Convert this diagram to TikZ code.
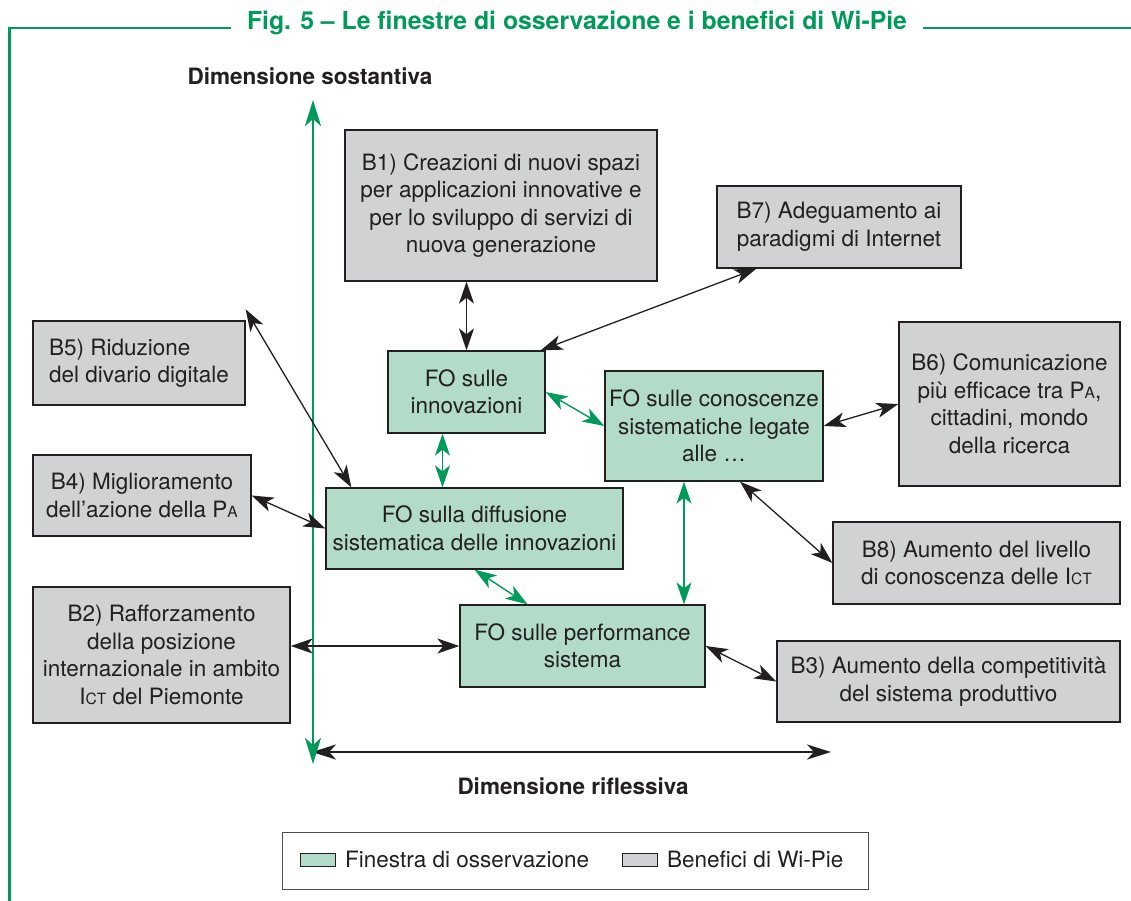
\documentclass[tikz,border=0pt]{standalone}
\usepackage{fontspec}
\setmainfont{TeX Gyre Heros}
\usetikzlibrary{arrows.meta,calc}
\definecolor{frgreen}{RGB}{0,155,88}
\definecolor{fofill}{RGB}{178,220,200}
\definecolor{bfill}{RGB}{209,210,212}
\definecolor{ink}{RGB}{35,31,32}
\newcommand\scx[1]{{\fontsize{15.5}{15.5}\selectfont #1}}
\tikzset{
  box/.style={draw=ink, line width=1.3pt, inner sep=0pt, align=center, text=ink,
     font=\fontsize{22.5}{27.5}\selectfont},
  fo/.style={box, fill=fofill},
  ben/.style={box, fill=bfill},
  hd/.style={Stealth[length=22pt,width=15pt,inset=6pt]},
  blk/.style={{Stealth[length=22pt,width=15pt,inset=6pt]}-{Stealth[length=22pt,width=15pt,inset=6pt]}, line width=1.3pt, draw=ink},
  grn/.style={{Stealth[length=22pt,width=15pt,inset=6pt]}-{Stealth[length=22pt,width=15pt,inset=6pt]}, line width=1.4pt, draw=frgreen},
  frame/.style={draw=frgreen, line width=2.6pt},
  axlab/.style={font=\fontsize{22.5}{27}\selectfont\bfseries, text=ink},
}
\begin{document}
\begin{tikzpicture}[x=1pt,y=-1pt]
\useasboundingbox (0,0) rectangle (1131,901);
% frame and title
\node[anchor=base, text=frgreen, font=\fontsize{24.8}{29}\selectfont\bfseries, inner xsep=16pt] (title) at (577,30) {Fig. 5 – Le finestre di osservazione e i benefici di Wi-Pie};
\draw[frame] (title.west |- 0,28) -- (9.5,28) -- (9.5,901);
\draw[frame] (title.east |- 0,28) -- (1131,28);
% axes
\node[axlab] (ylab) at (310,76) {Dimensione sostantiva};
\node[axlab] (xlab) at (573,786) {Dimensione riflessiva};
\coordinate (vtop) at (313,100);
\coordinate (vbot) at (313,764);
\coordinate (hl) at (312,752);
\coordinate (hr) at (831,752);
\draw[line width=2.4pt, draw=ink, {Stealth[length=24pt,width=15pt,inset=7pt]}-{Stealth[length=24pt,width=15pt,inset=7pt]}] (hl) -- (hr);
\draw[line width=2.8pt, draw=frgreen, {Stealth[length=26pt,width=16pt,inset=7pt]}-{Stealth[length=26pt,width=16pt,inset=7pt]}] (vtop) -- (vbot);
% boxes
\node[ben, minimum width=312pt, minimum height=151pt] (B1) at (501,205.5) {B1) Creazioni di nuovi spazi\\per applicazioni innovative e\\per lo sviluppo di servizi di\\nuova generazione};
\node[ben, minimum width=244pt, minimum height=82pt] (B7) at (839,227) {B7) Adeguamento ai\\paradigmi di Internet};
\node[ben, minimum width=212pt, minimum height=84pt, align=left] (B5) at (139,363) {B5) Riduzione\\del divario digitale};
\node[fo, minimum width=157pt, minimum height=82pt] (FOi) at (466.5,392) {FO sulle\\innovazioni};
\node[fo, minimum width=218pt, minimum height=110pt] (FOc) at (714,426) {FO sulle conoscenze\\sistematiche legate\\alle …};
\node[ben, minimum width=221pt, minimum height=164pt] (B6) at (1009.5,404) {B6) Comunicazione\\più efficace tra P\scx{A},\\cittadini, mondo\\della ricerca};
\node[ben, minimum width=218pt, minimum height=81pt] (B4) at (142,495.5) {B4) Miglioramento\\dell’azione della P\scx{A}};
\node[fo, minimum width=297pt, minimum height=81pt] (FOd) at (474.5,528.5) {FO sulla diffusione\\sistematica delle innovazioni};
\node[ben, minimum width=287pt, minimum height=82pt] (B8) at (976.5,563) {B8) Aumento del livello\\di conoscenza delle I\scx{CT}};
\node[ben, minimum width=257pt, minimum height=136pt] (B2) at (161.5,655) {B2) Rafforzamento\\della posizione\\internazionale in ambito\\I\scx{CT} del Piemonte};
\node[fo, minimum width=245pt, minimum height=82pt] (FOp) at (582.5,646) {FO sulle performance\\sistema};
\node[ben, minimum width=343pt, minimum height=81pt] (B3) at (948.5,681.5) {B3) Aumento della competitività\\del sistema produttivo};
% black connectors
\draw[blk] (FOi.north |- B1.south) -- (FOi.north);
\draw[blk] ([xshift=40pt]B7.south west) -- ([xshift=-5pt]FOi.north east);
\draw[blk] ([yshift=11pt]B5.north east) -- ([xshift=26pt]FOd.north west);
\draw[blk] (B4.east) -- (FOd.west);
\draw[blk] (B2.east |- FOp.west) -- (FOp.west);
\draw[blk] (FOc.east) -- (B6.west);
\draw[blk] ([xshift=26pt]FOc.south) -- (B8.west);
\draw[blk] (FOp.east) -- (B3.west);
% green connectors
\draw[grn] (FOi.east) -- (FOc.west);
\draw[grn] ([xshift=-24pt]FOi.south) -- ([xshift=-24pt]FOi.south |- FOd.north);
\draw[grn] (FOd.south) -- ([xshift=-55pt]FOp.north);
\draw[grn] ([xshift=-30pt]FOc.south) -- ([xshift=-30pt]FOc.south |- FOp.north);
% legend
\node[draw=ink!80, line width=0.9pt, minimum width=586pt, minimum height=57pt, inner sep=0pt] (leg) at (575,860.5) {};
\node[draw=ink, line width=1pt, fill=fofill, minimum width=35pt, minimum height=13pt, inner sep=0pt] (sw1) at (317.5,859.5) {};
\node[anchor=west, text=ink, font=\fontsize{22.5}{27}\selectfont, inner sep=0pt] (lt1) at (345,859.5) {Finestra di osservazione};
\node[draw=ink, line width=1pt, fill=bfill, minimum width=35pt, minimum height=13pt, inner sep=0pt] (sw2) at (639.5,859.5) {};
\node[anchor=west, text=ink, font=\fontsize{22.5}{27}\selectfont, inner sep=0pt] (lt2) at (667,859.5) {Benefici di Wi-Pie};
\end{tikzpicture}
\end{document}
